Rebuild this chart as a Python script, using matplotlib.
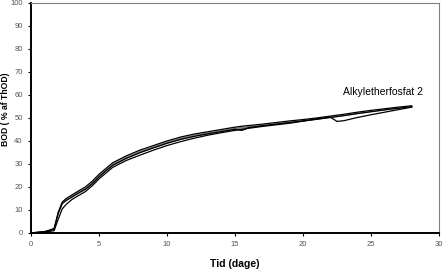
import matplotlib
matplotlib.use("Agg")
import matplotlib.pyplot as plt
import numpy as np

# Time (days) and BOD (% of ThOD) for three replicate curves
tid = [0, 0.5, 1.0, 1.5, 1.7, 2.0, 2.3, 2.6, 3.0, 3.5, 4.0, 4.5, 5.0, 5.5, 6, 7, 8, 9,
       10, 11, 12, 13, 14, 15, 15.5, 16, 17, 18, 19, 20, 21, 22, 22.5, 23, 24, 25, 26, 27, 28]
bod_upper = [0, 0.3, 0.6, 1.5, 2.0, 9.0, 13.5, 15.0, 16.5, 18.3, 20.0, 22.5, 25.5, 28.0, 30.5,
             33.5, 36.0, 38.0, 40.0, 41.7, 43.0, 44.0, 45.0, 46.0, 46.4, 46.7, 47.3, 48.0, 48.7,
             49.3, 50.0, 50.8, 51.2, 51.6, 52.5, 53.3, 54.0, 54.7, 55.3]
bod_middle = [0, 0.3, 0.5, 1.3, 1.8, 8.5, 12.8, 14.2, 15.6, 17.4, 19.0, 21.4, 24.4, 27.0, 29.4,
              32.4, 34.9, 37.0, 39.0, 40.7, 42.0, 43.1, 44.1, 45.1, 44.6, 45.8, 46.6, 47.3, 48.0,
              48.7, 49.4, 50.2, 50.6, 51.0, 51.9, 52.7, 53.5, 54.2, 54.9]
bod_lower = [0, 0.2, 0.4, 0.8, 1.0, 6.0, 10.5, 12.5, 14.5, 16.3, 18.0, 20.5, 23.5, 26.0, 28.5,
             31.5, 33.8, 36.0, 38.0, 39.7, 41.2, 42.5, 43.6, 44.6, 45.0, 45.5, 46.3, 47.0, 47.7,
             48.6, 49.6, 50.4, 48.5, 48.8, 50.2, 51.4, 52.5, 53.6, 54.7]

label_text = "Alkyletherfosfat 2"

plt.rcParams["font.family"] = ["Liberation Sans", "DejaVu Sans"]

fig = plt.figure(figsize=(4.47, 2.69), dpi=100)
ax = fig.add_axes([0.0694, 0.134, 0.9126, 0.855])

ax.fill_between(tid, bod_middle, bod_upper, color="#808080", linewidth=0)
ax.plot(tid, bod_upper, color="black", linewidth=0.9)
ax.plot(tid, bod_middle, color="black", linewidth=0.9)
ax.plot(tid, bod_lower, color="black", linewidth=0.9)

ax.text(25.9, 61.5, label_text, fontsize=7.5, ha="center", va="center")

ax.set_xlim(0, 30)
ax.set_ylim(0, 100)
ax.set_xticks(np.arange(0, 31, 5))
ax.set_yticks(np.arange(0, 101, 10))

ax.tick_params(axis="both", labelsize=5.5, labelcolor="#555555", length=2, width=0.8,
               direction="out", pad=4)

for side in ("left", "bottom"):
    ax.spines[side].set_linewidth(1.4)
    ax.spines[side].set_color("black")
for side in ("top", "right"):
    ax.spines[side].set_linewidth(0.8)
    ax.spines[side].set_color("#808080")

ax.set_xlabel("Tid (dage)", fontsize=7.5, fontweight="bold", labelpad=8)
fig.text(0.012, 0.595, "BOD ( % af ThOD)", fontsize=6.2, fontweight="bold",
         rotation=90, ha="center", va="center")

fig.savefig("out.png", dpi=100)
